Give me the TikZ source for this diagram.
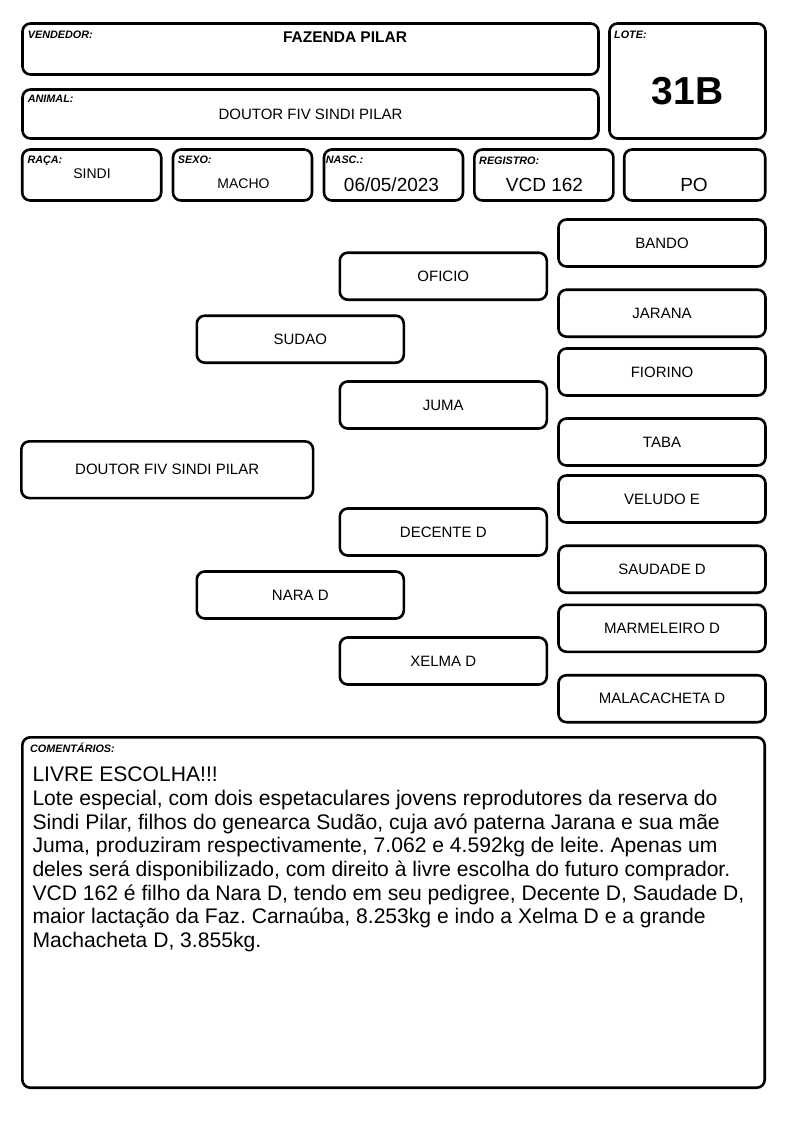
\documentclass[tikz,border=0pt]{standalone}
\usepackage{fontspec}
\setmainfont{Liberation Sans}
\usepackage{tikz}
\usetikzlibrary{positioning}
\frenchspacing
\tikzstyle{campo} = [rectangle, rounded corners=8pt, draw=black, line width=2.6pt, inner sep=0pt]
\tikzstyle{animal} = [campo, minimum width=207pt, minimum height=47pt, font=\fontsize{15}{18}\selectfont]
\tikzstyle{rotulo} = [anchor=base west, inner sep=0pt, font=\bfseries\itshape\fontsize{10.8}{12}\selectfont]
\tikzstyle{valor} = [anchor=base, inner sep=0pt, font=\fontsize{14}{17}\selectfont]
\tikzstyle{valorg} = [anchor=base, inner sep=0pt, font=\fontsize{19}{22}\selectfont]

\begin{document}
\begin{tikzpicture}[x=1pt, y=-1pt]
\useasboundingbox (0,0) rectangle (794,1123);

% Cabecalho
\node (vendedor) [campo, minimum width=576pt, minimum height=51pt] at (310.5,49) {};
\node (lote) [campo, minimum width=156pt, minimum height=115pt] at (687.5,81) {};
\node (animalbox) [campo, minimum width=576pt, minimum height=49pt] at (310.5,114) {};
\node (raca) [campo, minimum width=139pt, minimum height=51pt] at (91.7,175) {};
\node (sexo) [campo, minimum width=139pt, minimum height=51pt] at (242.5,175) {};
\node (nasc) [campo, minimum width=139pt, minimum height=51pt] at (393.5,175) {};
\node (registro) [campo, minimum width=139pt, minimum height=51pt] at (543.9,175) {};
\node (po) [campo, minimum width=141pt, minimum height=51pt] at (694.7,175) {};

\node (lblvend) [rotulo] at (27.7,39) {VENDEDOR:};
\node (lbllote) [rotulo] at (614,39) {LOTE:};
\node (lblanimal) [rotulo] at (27.7,103) {ANIMAL:};
\node (lblraca) [rotulo] at (27.3,163.5) {RAÇA:};
\node (lblsexo) [rotulo] at (177.7,164) {SEXO:};
\node (lblnasc) [rotulo] at (325.7,164) {NASC.:};
\node (lblreg) [rotulo] at (479,165) {REGISTRO:};

\node (txtvend) [valor, font=\bfseries\fontsize{15.5}{18}\selectfont] at (345,42.3) {FAZENDA PILAR};
\node (txtanimal) [valor, font=\fontsize{15}{18}\selectfont] at (310.5,119.5) {DOUTOR FIV SINDI PILAR};
\node (txtlote) [valor, font=\bfseries\fontsize{39}{44}\selectfont] at (687.5,105) {31B};
\node (txtraca) [valor] at (92,178.3) {SINDI};
\node (txtsexo) [valor] at (243.5,189) {MACHO};
\node (txtnasc) [valorg] at (391.5,192) {06/05/2023};
\node (txtreg) [valorg] at (544.5,192) {VCD 162};
\node (txtpo) [valorg] at (694,192) {PO};

% Pedigree
\node (doutor) [animal, minimum width=291.7pt, minimum height=56.7pt] at (167.2,469.7) {DOUTOR FIV SINDI PILAR};

\node (sudao) [animal] at (300.3,339.2) {SUDAO};
\node (nara) [animal] at (300.3,595) {NARA D};

\node (oficio) [animal] at (443.3,276.2) {OFICIO};
\node (juma) [animal] at (443.3,405) {JUMA};
\node (decente) [animal] at (443.3,532) {DECENTE D};
\node (xelma) [animal] at (443.3,661) {XELMA D};

\node (bando) [animal] at (662,243) {BANDO};
\node (jarana) [animal] at (662,313.2) {JARANA};
\node (fiorino) [animal] at (662,372) {FIORINO};
\node (taba) [animal] at (662,442) {TABA};
\node (veludo) [animal] at (662,499) {VELUDO E};
\node (saudade) [animal] at (662,569.2) {SAUDADE D};
\node (marmeleiro) [animal] at (662,628.3) {MARMELEIRO D};
\node (malacacheta) [animal] at (662,698.7) {MALACACHETA D};

% Comentarios
\node (comentarios) [campo, minimum width=742.4pt, minimum height=350.4pt] at (393.5,912.5) {};
\node (lblcom) [rotulo] at (30,752.7) {COMENTÁRIOS:};
% base = ultima linha do texto
\node (txtcom) [anchor=base west, inner sep=0pt, align=left, font=\fontsize{21.1}{23.7}\selectfont] at (32.3,947.6) {LIVRE ESCOLHA!!!\\
Lote especial, com dois espetaculares jovens reprodutores da reserva do\\
Sindi Pilar, filhos do genearca Sudão, cuja avó paterna Jarana e sua mãe\\
Juma, produziram respectivamente, 7.062 e 4.592kg de leite. Apenas um\\
deles será disponibilizado, com direito à livre escolha do futuro comprador.\\
VCD 162 é filho da Nara D, tendo em seu pedigree, Decente D, Saudade D,\\
maior lactação da Faz. Carnaúba, 8.253kg e indo a Xelma D e a grande\\
Machacheta D, 3.855kg.};

\end{tikzpicture}
\end{document}
